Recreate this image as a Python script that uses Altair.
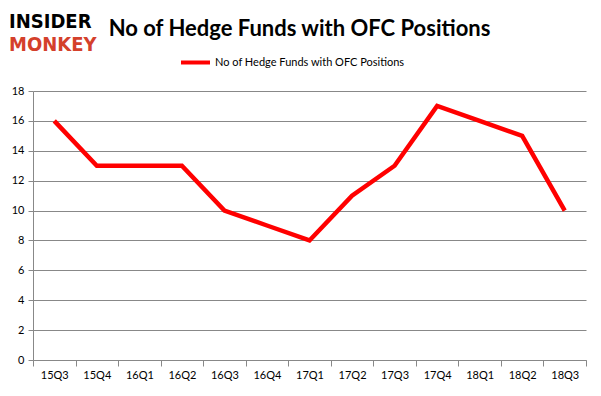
import altair as alt
import pandas as pd

quarters = ["15Q3", "15Q4", "16Q1", "16Q2", "16Q3", "16Q4", "17Q1",
            "17Q2", "17Q3", "17Q4", "18Q1", "18Q2", "18Q3"]
funds = [16, 13, 13, 13, 10, 9, 8, 11, 13, 17, 16, 15, 10]
series_name = "No of Hedge Funds with OFC Positions"
title_text = "No of Hedge Funds with OFC Positions"
y_ticks = [0, 2, 4, 6, 8, 10, 12, 14, 16, 18]

df = pd.DataFrame({"quarter": quarters, "funds": funds,
                   "series": [series_name] * len(quarters)})

FONT = "Lato"
LOGO_FONT = "DejaVu Sans Condensed, DejaVu Sans"

line = alt.Chart(df).mark_line(strokeWidth=4.5, strokeJoin="miter").encode(
    x=alt.X("quarter:N", sort=quarters, title=None,
            scale=alt.Scale(paddingInner=0, paddingOuter=0),
            axis=alt.Axis(labelAngle=0, tickBand="extent", grid=False,
                          domainColor="#888888", tickColor="#888888",
                          tickSize=6, labelPadding=3, labelFontSize=11,
                          labelColor="#000000", labelFont=FONT)),
    y=alt.Y("funds:Q", title=None,
            scale=alt.Scale(domain=[0, 18], nice=False),
            axis=alt.Axis(values=y_ticks, grid=True, gridColor="#888888",
                          domainColor="#888888", tickColor="#888888",
                          tickSize=5, labelPadding=4, labelFontSize=11,
                          labelColor="#000000", labelFont=FONT)),
    color=alt.Color("series:N",
                    scale=alt.Scale(domain=[series_name], range=["#ff0000"]),
                    legend=alt.Legend(title=None, orient="none",
                                      legendX=146, legendY=-45,
                                      symbolType="stroke", symbolSize=841,
                                      symbolStrokeWidth=4, labelOffset=3,
                                      labelLimit=0,
                                      labelFontSize=11, labelFont=FONT,
                                      labelColor="#000000")),
)

logo_top = alt.Chart(pd.DataFrame({"t": ["INSIDER"]})).mark_text(
    align="left", baseline="alphabetic", font=LOGO_FONT,
    fontSize=20, fontWeight="bold", color="#000000"
).encode(x=alt.value(-24), y=alt.value(-63), text="t:N")

logo_bottom = alt.Chart(pd.DataFrame({"t": ["MONKEY"]})).mark_text(
    align="left", baseline="alphabetic", font=LOGO_FONT,
    fontSize=20, fontWeight="bold", color="#d4402b"
).encode(x=alt.value(-24), y=alt.value(-40), text="t:N")

chart = alt.layer(line, logo_top, logo_bottom).properties(
    width=553, height=269,
    padding={"left": 25, "top": 83, "right": 7, "bottom": 28},
    autosize=alt.AutoSizeParams(type="none"),
    title=alt.TitleParams(title_text, anchor="middle", dx=-10, offset=12,
                          dy=41, frame="group",
                          fontSize=22, font=FONT, fontWeight="bold",
                          color="#000000"),
).configure_view(stroke=None)

chart.save("out.html", embed_options={"renderer": "svg", "actions": False})
